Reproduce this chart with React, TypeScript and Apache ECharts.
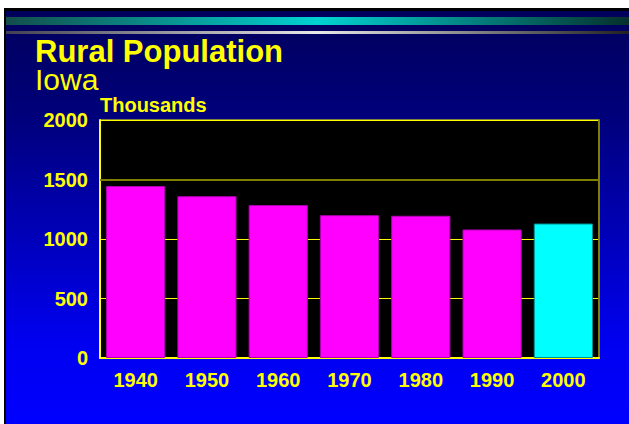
import React, { useEffect, useRef } from 'react';
import * as echarts from 'echarts';

const categories = ['1940', '1950', '1960', '1970', '1980', '1990', '2000'];
const ruralPopulation = [1445, 1360, 1285, 1200, 1195, 1080, 1130];
const highlightYear = '2000';
const yMin = 0;
const yMax = 2000;
const yInterval = 500;
const referenceLine = 1500;
const titleText = 'Rural Population';
const subtitleText = 'Iowa';
const unitText = 'Thousands';

export default function App() {
  const ref = useRef<HTMLDivElement>(null);
  useEffect(() => {
    const chart = echarts.init(ref.current!, null, { renderer: 'svg' });
    const font = '"Liberation Sans", Arial, Helvetica, sans-serif';
    const yellow = '#ffff00';
    chart.setOption({
      animation: false,
      backgroundColor: '#ffffff',
      graphic: [
        { type: 'rect', z: -20, silent: true, shape: { x: 4, y: 8, width: 625, height: 416 }, style: { fill: '#000000' } },
        {
          type: 'rect', z: -19, silent: true, shape: { x: 6, y: 11, width: 623, height: 413 },
          style: {
            fill: new echarts.graphic.LinearGradient(0, 0, 0, 1, [
              { offset: 0, color: '#00005c' },
              { offset: 0.25, color: '#00007a' },
              { offset: 0.5, color: '#0000b0' },
              { offset: 0.8, color: '#0000f0' },
              { offset: 1, color: '#0000ff' },
            ]),
          },
        },
        {
          type: 'rect', z: -18, silent: true, shape: { x: 6, y: 17, width: 623, height: 8 },
          style: {
            fill: new echarts.graphic.LinearGradient(0, 0, 1, 0, [
              { offset: 0, color: '#124e4a' },
              { offset: 0.5, color: '#00d2d2' },
              { offset: 1, color: '#06302c' },
            ]),
          },
        },
        {
          type: 'rect', z: -18, silent: true, shape: { x: 6, y: 31, width: 623, height: 3 },
          style: {
            fill: new echarts.graphic.LinearGradient(0, 0, 1, 0, [
              { offset: 0, color: '#404050' },
              { offset: 0.5, color: '#e8e8e8' },
              { offset: 1, color: '#202020' },
            ]),
          },
        },
        {
          type: 'text', x: 35, y: 37, silent: true,
          style: {
            text: `{t|${titleText}}\n{s|${subtitleText}}`,
            verticalAlign: 'top',
            textVerticalAlign: 'top',
            fill: yellow,
            rich: {
              t: { fill: yellow, color: yellow, fontFamily: font, fontWeight: 'bold', fontSize: 31, lineHeight: 28 },
              s: { fill: yellow, color: yellow, fontFamily: font, fontWeight: 'normal', fontSize: 30, lineHeight: 28 },
            },
          },
        },
        {
          type: 'text', x: 100, y: 105, silent: true,
          style: { text: unitText, fill: yellow, font: `bold 20px ${font}`, lineHeight: 18, verticalAlign: 'middle', textVerticalAlign: 'middle' },
        },
      ],
      grid: {
        left: 100, top: 120, right: 30, bottom: 66,
        show: true, backgroundColor: '#000000', borderColor: yellow, borderWidth: 1,
      },
      xAxis: {
        type: 'category',
        data: categories,
        axisLine: { lineStyle: { color: yellow, width: 2 } },
        axisTick: { show: false },
        axisLabel: { color: yellow, fontFamily: font, fontWeight: 'bold', fontSize: 20, margin: 12 },
      },
      yAxis: [
        {
          type: 'value', min: yMin, max: yMax, interval: yInterval,
          axisLine: { show: true, lineStyle: { color: yellow, width: 2 } },
          axisTick: { show: false },
          axisLabel: {
            color: yellow, fontFamily: font, fontWeight: 'bold', fontSize: 20, margin: 12,
            formatter: (v: number) => String(v),
          },
          splitLine: { show: true, lineStyle: { color: yellow, width: 1 } },
        },
        {
          type: 'value', position: 'right', min: yMin, max: yMax, interval: yInterval,
          axisLine: { show: true, lineStyle: { color: '#808000', width: 2 } },
          axisTick: { show: false },
          axisLabel: { show: false },
          splitLine: { show: false },
        },
      ],
      series: [
        {
          type: 'bar',
          barCategoryGap: '17%',
          data: ruralPopulation.map((v, i) => ({
            value: v,
            itemStyle: categories[i] === highlightYear
              ? { color: '#00ffff', borderColor: '#009090', borderWidth: 1 }
              : { color: '#ff00ff', borderColor: '#b000b0', borderWidth: 1 },
          })),
          markLine: {
            silent: true,
            symbol: ['none', 'none'],
            label: { show: false },
            lineStyle: { color: '#808000', width: 2, type: 'solid' },
            data: [{ yAxis: referenceLine }],
          },
        },
      ],
    });
    return () => chart.dispose();
  }, []);
  return <div ref={ref} style={{ position: 'fixed', left: 0, top: 0, width: 629, height: 424 }} />;
}
